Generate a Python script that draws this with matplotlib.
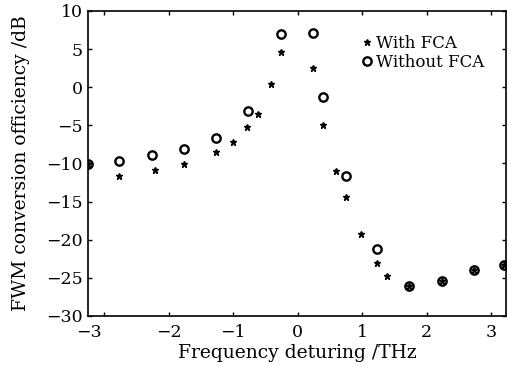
import matplotlib
matplotlib.use("Agg")
import matplotlib.pyplot as plt
from matplotlib.transforms import ScaledTranslation

# Without FCA (open circles)
x_wo = [-3.25, -2.77, -2.26, -1.76, -1.26, -0.77, -0.26, 0.24, 0.40, 0.75, 1.23, 1.73, 2.24, 2.74, 3.20]
y_wo = [-10.1, -9.7, -8.9, -8.1, -6.6, -3.1, 7.0, 7.1, -1.3, -11.7, -21.2, -26.1, -25.4, -24.0, -23.3]

# With FCA (small filled stars)
x_w = [-3.25, -2.77, -2.21, -1.76, -1.26, -1.00, -0.78, -0.61, -0.41, -0.26, 0.24, 0.40, 0.60, 0.75,
       0.98, 1.23, 1.39, 1.73, 2.24, 2.74, 3.20]
y_w = [-10.1, -11.7, -10.9, -10.1, -8.5, -7.2, -5.2, -3.5, 0.4, 4.6, 2.5, -5.0, -11.0, -14.4,
       -19.3, -23.1, -24.8, -26.1, -25.4, -24.0, -23.3]

xticks = [-3, -2, -1, 0, 1, 2, 3]
yticks = [-30, -25, -20, -15, -10, -5, 0, 5, 10]

plt.rcParams['font.family'] = ['DejaVu Serif']
plt.rcParams['font.size'] = 12.5

fig = plt.figure(figsize=(5.07, 3.66), dpi=100)
ax = fig.add_axes([0.1736, 0.137, 0.8244, 0.833])

ax.plot(x_w, y_w, linestyle='none', marker='*', ms=5, color='black', label='With FCA')
ax.plot(x_wo, y_wo, linestyle='none', marker='o', ms=6, mfc='none', mec='black', mew=1.7,
        label='Without FCA')

ax.set_xlim(-3.25, 3.23)
ax.set_ylim(-30, 10)
ax.set_xticks(xticks)
ax.set_yticks(yticks)
ax.tick_params(direction='in', length=3, width=1, top=True, right=True, labelsize=12.5)
ax.tick_params(axis='x', pad=6)
ax.tick_params(axis='y', pad=4)
for s in ax.spines.values():
    s.set_linewidth(1.2)

# the -3 label sits at the left edge in the original
lbl = ax.get_xticklabels()[0]
lbl.set_transform(lbl.get_transform() + ScaledTranslation(-0.15, 0, fig.dpi_scale_trans))

ax.set_xlabel('Frequency deturing /THz', fontsize=13.5, labelpad=2)
ax.set_ylabel('FWM conversion officiency /dB', fontsize=13.5, labelpad=11)

ax.legend(loc='upper left', bbox_to_anchor=(0.636, 0.95), frameon=False, handlelength=0.6,
          handletextpad=0.2, borderpad=0, labelspacing=0.15, fontsize=12)

fig.savefig('out.png', dpi=100)
